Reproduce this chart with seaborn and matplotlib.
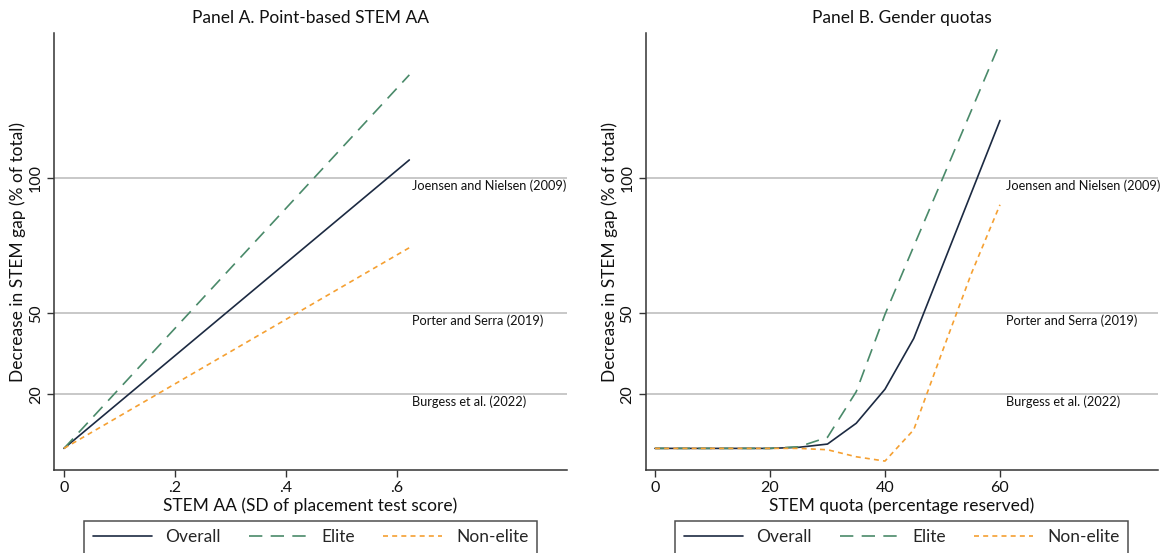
import numpy as np
import pandas as pd
import matplotlib
matplotlib.use("Agg")
import matplotlib.pyplot as plt
import seaborn as sns
from matplotlib.lines import Line2D

# ---- data ----
groups = ["Overall", "Elite", "Non-elite"]

# Panel A: point-based STEM AA (SD of placement test score)
aa_x = [0.0, 0.622]
aa_overall = [0.0, 106.8]
aa_elite = [0.0, 138.3]
aa_nonelite = [0.0, 74.3]

# Panel B: gender quotas (percentage reserved)
q_x = [0, 5, 10, 15, 20, 25, 30, 35, 40, 45, 50, 55, 60]
q_overall = [0, 0, 0, 0, 0, 0.4, 1.6, 9.3, 21.9, 40.7, 67.6, 94.5, 121.4]
q_elite = [0, 0, 0, 0, 0, 0.6, 4.1, 21.0, 49.6, 74.8, 99.8, 125.0, 150.2]
q_nonelite = [0, 0, 0, 0, 0, 0, -0.5, -3.1, -4.7, 6.9, 36.0, 64.6, 90.2]

ref_values = [100, 50, 20]
ref_labels = ["Joensen and Nielsen (2009)", "Porter and Serra (2019)", "Burgess et al. (2022)"]

yticks = [20, 50, 100]
aa_ticks = [0, 0.2, 0.4, 0.6]
aa_ticklabels = ["0", ".2", ".4", ".6"]
q_ticks = [0, 20, 40, 60]
q_ticklabels = ["0", "20", "40", "60"]

titles = ["Panel A. Point-based STEM AA", "Panel B. Gender quotas"]
xlabels = ["STEM AA (SD of placement test score)", "STEM quota (percentage reserved)"]
ylabel = "Decrease in STEM gap (% of total)"

# ---- style ----
sns.set_theme(style="white")
plt.rcParams["font.family"] = ["Lato", "DejaVu Sans"]

palette = {"Overall": "#1c2a42", "Elite": "#4a8a6a", "Non-elite": "#f5a032"}
dashes = {"Overall": "", "Elite": (8, 5), "Non-elite": (3, 2.5)}

def long_df(x, ov, el, ne):
    rows = []
    for g, vals in zip(groups, [ov, el, ne]):
        for xi, yi in zip(x, vals):
            rows.append({"x": xi, "y": yi, "group": g})
    return pd.DataFrame(rows)

dfA = long_df(aa_x, aa_overall, aa_elite, aa_nonelite)
dfB = long_df(q_x, q_overall, q_elite, q_nonelite)

fig = plt.figure(figsize=(11.64, 5.53), dpi=100)
axA = fig.add_axes([54/1164, 1-470/553, (567-54)/1164, (470-33)/553])
axB = fig.add_axes([645.5/1164, 1-470/553, (1157.5-645.5)/1164, (470-33)/553])

panels = [
    (axA, dfA, (-0.018, 0.906), aa_ticks, aa_ticklabels, 0.627),
    (axB, dfB, (-1.65, 87.4), q_ticks, q_ticklabels, 61.0),
]

for i, (ax, df, xlim, xt, xtl, txt_x) in enumerate(panels):
    for v in ref_values:
        ax.axhline(v, color="#c4c4c4", lw=1.3, zorder=1)
    sns.lineplot(data=df, x="x", y="y", hue="group", style="group",
                 palette=palette, dashes=dashes, hue_order=groups,
                 style_order=groups, lw=1.2, ax=ax, legend=False, zorder=3)
    for v, lab in zip(ref_values, ref_labels):
        ax.annotate(lab, xy=(txt_x, v), xytext=(0, -5.5), textcoords="offset points",
                    ha="left", va="center", fontsize=9.2, color="#111111")
    ax.set_xlim(*xlim)
    ax.set_ylim(-8.0, 153.8)
    ax.set_xticks(xt)
    ax.set_xticklabels(xtl)
    ax.set_yticks(yticks)
    ax.set_yticklabels([str(t) for t in yticks], rotation=90, va="center")
    ax.tick_params(axis="both", which="both", direction="out", length=5, width=1,
                   color="#333333", labelsize=11.5, labelcolor="#111111", pad=3,
                   left=True, bottom=True)
    for s in ["top", "right"]:
        ax.spines[s].set_visible(False)
    for s in ["left", "bottom"]:
        ax.spines[s].set_color("#333333")
        ax.spines[s].set_linewidth(1.1)
    ax.set_title(titles[i], fontsize=12.5, color="#111111", pad=7)
    ax.set_xlabel(xlabels[i], fontsize=12.5, color="#111111", labelpad=2)
    ax.set_ylabel(ylabel, fontsize=12.5, color="#111111", labelpad=2)

    handles = [Line2D([], [], color=palette[g], lw=1.2,
                      linestyle="-" if g == "Overall" else (0, dashes[g]))
               for g in groups]
    leg = ax.legend(handles, groups, loc="upper center", bbox_to_anchor=(0.5, -0.116),
                    ncol=3, frameon=True, fancybox=False, fontsize=12.5,
                    handlelength=3.4, columnspacing=1.6, handletextpad=0.8,
                    borderpad=0.5, borderaxespad=0)
    leg.get_frame().set_edgecolor("#222222")
    leg.get_frame().set_linewidth(1.1)

fig.savefig("out.png", dpi=100)
